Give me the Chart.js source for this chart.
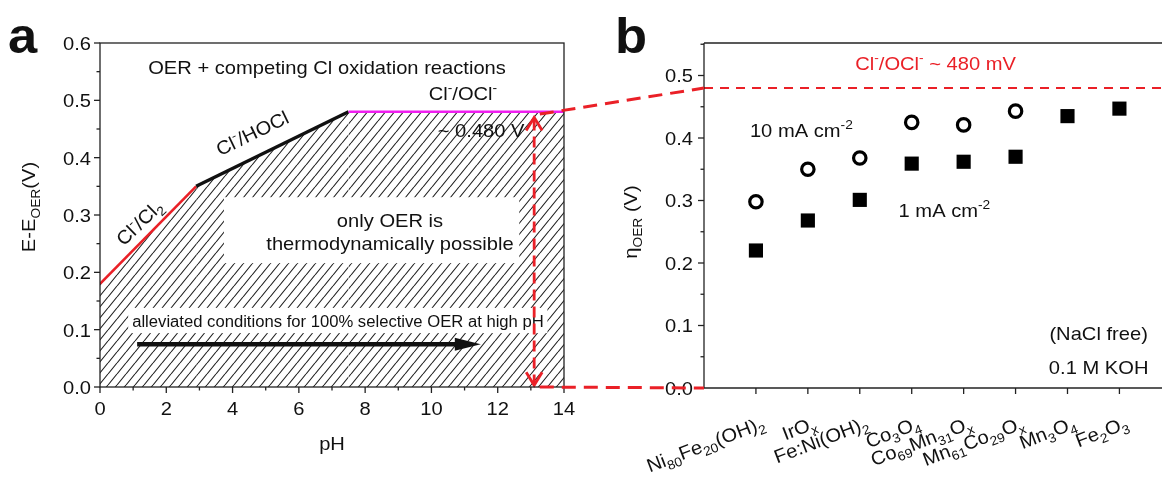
<!DOCTYPE html>
<html><head><meta charset="utf-8">
<script src="https://cdn.jsdelivr.net/npm/chart.js@4.4.1/dist/chart.umd.min.js"></script>
<style>
body{margin:0;background:#fff}
#wrap{position:relative;width:1162px;height:482px;overflow:hidden;background:#fff}
canvas{position:absolute;top:0}
</style></head><body>
<div id="wrap">
<canvas id="left" width="580" height="482" style="left:0"></canvas>
<canvas id="right" width="582" height="482" style="left:580px"></canvas>
<canvas id="links" width="1162" height="482" style="left:0;pointer-events:none"></canvas>
</div>
<script>
const FONT = '"Liberation Sans", Arial, sans-serif';
const SX = 1.06;
const RED = '#ea2027';

// panel a: Cl oxidation potential vs pH
const phPoints = [0, 2.9, 7.5, 14];
const clPotential = [0.18, 0.35, 0.48, 0.48];
const couples = ['Cl^{-}/Cl_{2}', 'Cl^{-}/HOCl', 'Cl^{-}/OCl^{-}'];
const coupleColors = [RED, '#111111', '#f01ef0'];
const coupleWidths = [2.6, 3.4, 2.6];
const phTicks = [0, 2, 4, 6, 8, 10, 12, 14];
const eTicks = [0, 0.1, 0.2, 0.3, 0.4, 0.5, 0.6];
const kohPH = 13.1;

// panel b: overpotentials in 0.1 M KOH
const catalysts = ['Ni_{80}Fe_{20}(OH)_{2}', 'IrO_{x}', 'Fe:Ni(OH)_{2}', 'Co_{3}O_{4}',
  'Co_{69}Mn_{31}O_{x}', 'Mn_{61}Co_{29}O_{x}', 'Mn_{3}O_{4}', 'Fe_{2}O_{3}'];
const eta10 = [0.298, 0.350, 0.368, 0.425, 0.421, 0.443, null, null];
const eta1 = [0.220, 0.268, 0.301, 0.359, 0.362, 0.370, 0.435, 0.447];
const etaTicks = [0, 0.1, 0.2, 0.3, 0.4, 0.5];
const limitOCl = 0.48;

// small rich text: _{sub} and ^{sup}
function parts(s) {
  const out = [];
  const re = /_\{([^}]*)\}|\^\{([^}]*)\}|([^_^]+)/g;
  let m;
  while ((m = re.exec(s))) {
    if (m[1] !== undefined) out.push([m[1], 'sub']);
    else if (m[2] !== undefined) out.push([m[2], 'sup']);
    else out.push([m[3], 'n']);
  }
  return out;
}
function rich(ctx, s, x, y, o = {}) {
  const size = o.size || 19, sm = Math.round(size * 0.68);
  const fw = o.bold ? 'bold ' : '';
  const f1 = fw + size + 'px ' + FONT, f2 = fw + sm + 'px ' + FONT;
  const ps = parts(s);
  let W = 0;
  const ws = ps.map(([t, k]) => { ctx.font = k === 'n' ? f1 : f2; const w = ctx.measureText(t).width; W += w; return w; });
  ctx.save();
  ctx.translate(x, y);
  if (o.rot) ctx.rotate(o.rot * Math.PI / 180);
  ctx.scale(o.sx ?? SX, 1);
  ctx.fillStyle = o.color || '#111';
  ctx.textBaseline = 'alphabetic';
  ctx.textAlign = 'left';
  let cx = o.align === 'left' ? 0 : o.align === 'right' ? -W : -W / 2;
  const by = o.base === 'alpha' ? 0 : size * 0.36;
  ps.forEach(([t, k], i) => {
    ctx.font = k === 'n' ? f1 : f2;
    const dy = k === 'sub' ? size * 0.25 : k === 'sup' ? -size * 0.42 : 0;
    ctx.fillText(t, cx, by + dy);
    cx += ws[i];
  });
  ctx.restore();
}
function seg(ctx, x0, y0, x1, y1) { ctx.beginPath(); ctx.moveTo(x0, y0); ctx.lineTo(x1, y1); ctx.stroke(); }
function mids(t) { const r = []; for (let i = 1; i < t.length; i++) r.push((t[i - 1] + t[i]) / 2); return r; }

function hatch(target) {
  const w = 9, h = 11;
  const c = document.createElement('canvas');
  c.width = w; c.height = h;
  const g = c.getContext('2d');
  g.strokeStyle = '#222'; g.lineWidth = 1.1;
  g.beginPath();
  for (const o of [-1, 0, 1]) { g.moveTo(o * w, h); g.lineTo(o * w + w, 0); }
  g.stroke();
  return target.getContext('2d').createPattern(c, 'repeat');
}

const leftDeco = {
  id: 'leftDeco',
  afterDraw(chart) {
    const { ctx, chartArea: a, scales: { x, y } } = chart;
    const X = v => x.getPixelForValue(v), Y = v => y.getPixelForValue(v);
    ctx.save();
    // white label boxes
    ctx.fillStyle = '#fff';
    ctx.fillRect(X(3.74), Y(0.331), X(12.65) - X(3.74), Y(0.216) - Y(0.331));
    ctx.fillRect(X(0.85), Y(0.138), X(13.5) - X(0.85), Y(0.094) - Y(0.138));
    // texts
    rich(ctx, 'OER + competing Cl oxidation reactions', X(6.85), Y(0.558));
    rich(ctx, couples[2], X(10.95), Y(0.513));
    rich(ctx, '~ 0.480 V', X(11.5), Y(0.448));
    rich(ctx, couples[1], X(4.59), Y(0.443), { rot: -26 });
    rich(ctx, couples[0], X(1.18), Y(0.287), { rot: -44 });
    rich(ctx, 'only OER is', X(8.75), Y(0.291));
    rich(ctx, 'thermodynamically possible', X(8.75), Y(0.2506));
    rich(ctx, 'alleviated conditions for 100% selective OER at high pH', X(7.18), Y(0.114), { size: 16, sx: 1.04 });
    // black arrow
    const ay = Y(0.0745), ax0 = X(1.12), ax1 = X(11.49);
    ctx.strokeStyle = '#111'; ctx.fillStyle = '#111'; ctx.lineWidth = 4.5;
    seg(ctx, ax0, ay, ax1 - 22, ay);
    ctx.beginPath(); ctx.moveTo(ax1 - 26, ay - 6.5); ctx.lineTo(ax1, ay); ctx.lineTo(ax1 - 26, ay + 6.5); ctx.closePath(); ctx.fill();
    // red double arrow at pH 13
    const vx = X(kohPH), top = Y(0.47), bot = Y(0.003);
    ctx.strokeStyle = RED; ctx.lineWidth = 2.8;
    ctx.setLineDash([11, 6]);
    seg(ctx, vx, top + 2, vx, bot - 2);
    ctx.setLineDash([]);
    ctx.beginPath(); ctx.moveTo(vx - 8, top + 13); ctx.lineTo(vx, top); ctx.lineTo(vx + 8, top + 13); ctx.stroke();
    ctx.beginPath(); ctx.moveTo(vx - 8, bot - 13); ctx.lineTo(vx, bot); ctx.lineTo(vx + 8, bot - 13); ctx.stroke();
    // frame and ticks
    ctx.strokeStyle = '#222'; ctx.lineWidth = 1.3;
    ctx.strokeRect(a.left, a.top, a.right - a.left, a.bottom - a.top);
    phTicks.forEach(v => { seg(ctx, X(v), a.bottom, X(v), a.bottom + 6); rich(ctx, String(v), X(v), a.bottom + 21); });
    mids(phTicks).forEach(v => seg(ctx, X(v), a.bottom, X(v), a.bottom + 3.5));
    eTicks.forEach(v => { seg(ctx, a.left - 6, Y(v), a.left, Y(v)); rich(ctx, v.toFixed(1), a.left - 9, Y(v), { align: 'right' }); });
    mids(eTicks).forEach(v => seg(ctx, a.left - 3.5, Y(v), a.left, Y(v)));
    rich(ctx, 'pH', (a.left + a.right) / 2, 443);
    rich(ctx, 'E-E_{OER}(V)', 28, 207, { rot: -90 });
    rich(ctx, 'a', 8, 53, { size: 50, bold: true, align: 'left', base: 'alpha', sx: 1.05 });
    ctx.restore();
  }
};

const leftCanvas = document.getElementById('left');
const leftChart = new Chart(leftCanvas, {
  type: 'line',
  data: {
    datasets: [{
      data: phPoints.map((p, i) => ({ x: p, y: clPotential[i] })),
      borderColor: coupleColors[0],
      borderWidth: 2.6,
      pointRadius: 0,
      tension: 0,
      fill: 'origin',
      backgroundColor: hatch(leftCanvas),
      segment: {
        borderColor: c => coupleColors[c.p0DataIndex],
        borderWidth: c => coupleWidths[c.p0DataIndex]
      }
    }]
  },
  options: {
    responsive: false,
    animation: false,
    devicePixelRatio: 1,
    layout: { autoPadding: false, padding: { left: 100, right: 16, top: 43, bottom: 95 } },
    scales: {
      x: { type: 'linear', min: 0, max: 14, display: false },
      y: { type: 'linear', min: 0, max: 0.6, display: false }
    },
    plugins: { legend: { display: false }, tooltip: { enabled: false } }
  },
  plugins: [leftDeco]
});

const rightDeco = {
  id: 'rightDeco',
  beforeDatasetsDraw(chart) {
    const { ctx, chartArea: a, scales: { y } } = chart;
    ctx.save();
    ctx.strokeStyle = RED; ctx.lineWidth = 2; ctx.setLineDash([9, 7]);
    seg(ctx, a.left, y.getPixelForValue(limitOCl), chart.width, y.getPixelForValue(limitOCl));
    ctx.restore();
  },
  afterDraw(chart) {
    const { ctx, chartArea: a, scales: { x, y } } = chart;
    const X = v => x.getPixelForValue(v), Y = v => y.getPixelForValue(v);
    ctx.save();
    ctx.strokeStyle = '#222'; ctx.lineWidth = 1.3;
    seg(ctx, a.left, a.top, chart.width, a.top);
    seg(ctx, a.left, a.top, a.left, a.bottom);
    seg(ctx, a.left, a.bottom, chart.width, a.bottom);
    catalysts.forEach((c, i) => {
      seg(ctx, X(i), a.bottom, X(i), a.bottom + 6);
      rich(ctx, c, X(i) + 10, 428, { rot: -21, align: 'right', base: 'alpha' });
    });
    etaTicks.forEach(v => { seg(ctx, a.left - 6, Y(v), a.left, Y(v)); rich(ctx, v.toFixed(1), a.left - 11, Y(v), { align: 'right' }); });
    mids(etaTicks).concat([0.55]).forEach(v => seg(ctx, a.left - 3.5, Y(v), a.left, Y(v)));
    rich(ctx, 'Cl^{-}/OCl^{-} ~ 480 mV', X(3.46), Y(0.52), { color: RED });
    rich(ctx, '10 mA cm^{-2}', X(0.875), Y(0.413));
    rich(ctx, '1 mA cm^{-2}', X(3.63), Y(0.285));
    rich(ctx, '(NaCl free)', X(6.6), Y(0.0877));
    rich(ctx, '0.1 M KOH', X(6.6), Y(0.034));
    rich(ctx, 'η_{OER} (V)', 630 - 580, 222, { rot: -90 });
    rich(ctx, 'b', 35, 53, { size: 50, bold: true, align: 'left', base: 'alpha', sx: 1.05 });
    ctx.restore();
  }
};

const toPts = arr => arr.map((v, i) => (v === null ? null : { x: i, y: v })).filter(Boolean);
const rightChart = new Chart(document.getElementById('right'), {
  type: 'scatter',
  data: {
    datasets: [
      { label: '10 mA cm-2', data: toPts(eta10), pointStyle: 'circle', pointRadius: 6.2, borderWidth: 3.2,
        borderColor: '#000', backgroundColor: '#fff' },
      { label: '1 mA cm-2', data: toPts(eta1), pointStyle: 'rect', pointRadius: 10, borderWidth: 0,
        borderColor: '#000', backgroundColor: '#000' }
    ]
  },
  options: {
    responsive: false,
    animation: false,
    devicePixelRatio: 1,
    layout: { autoPadding: false, padding: { left: 124, right: 0, top: 43, bottom: 94 } },
    scales: {
      x: { type: 'linear', min: -1, max: 7.82, display: false },
      y: { type: 'linear', min: 0, max: 0.552, display: false }
    },
    plugins: { legend: { display: false }, tooltip: { enabled: false } }
  },
  plugins: [rightDeco]
});

// red dashed links between the two panels
(function drawLinks() {
  const c = document.getElementById('links').getContext('2d');
  const off = 580;
  const lx = leftChart.scales.x, ly = leftChart.scales.y, ry = rightChart.scales.y;
  const rl = off + rightChart.chartArea.left;
  c.strokeStyle = RED; c.lineWidth = 3; c.setLineDash([14, 8]);
  c.beginPath();
  c.moveTo(lx.getPixelForValue(kohPH + 0.17), ly.getPixelForValue(0.476));
  c.lineTo(rl, ry.getPixelForValue(limitOCl));
  c.moveTo(lx.getPixelForValue(kohPH + 0.17), ly.getPixelForValue(0));
  c.lineTo(rl, ry.getPixelForValue(0));
  c.stroke();
})();
</script>
</body></html>
